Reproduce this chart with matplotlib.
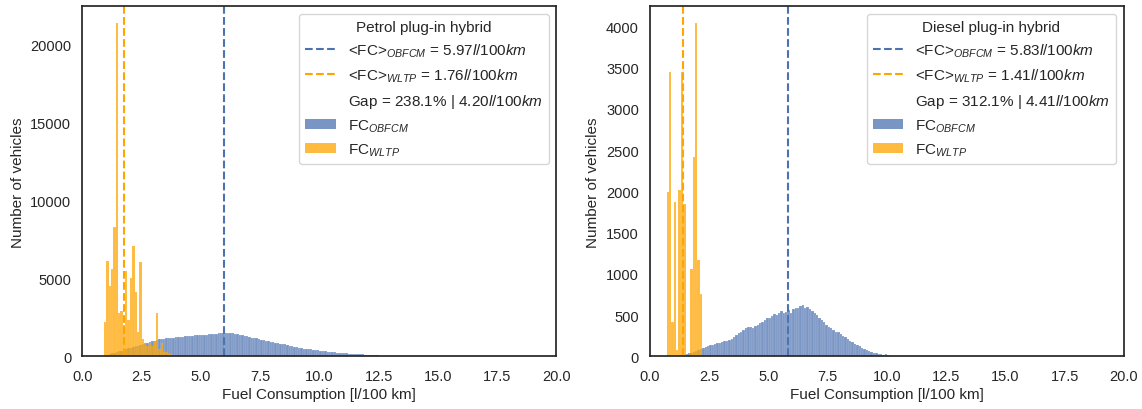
import numpy as np
import matplotlib
matplotlib.use("Agg")
import matplotlib.pyplot as plt
from matplotlib.patches import Patch
from matplotlib.lines import Line2D
from matplotlib.ticker import MultipleLocator

# bin width of both histograms [l/100 km]
bin_w = 0.1

# Petrol plug-in hybrid
petrol_obfcm_start = 0.8
petrol_obfcm = [20, 60, 100, 140, 190, 230, 280, 330, 370, 420,
                470, 510, 560, 600, 650, 690, 740, 780, 830, 880,
                930, 980, 1010, 1050, 1080, 1100, 1130, 1150, 1170, 1190,
                1160, 1210, 1240, 1260, 1230, 1280, 1300, 1320, 1290, 1350,
                1370, 1340, 1390, 1400, 1380, 1420, 1440, 1460, 1430, 1480,
                1500, 1510, 1490, 1520, 1500, 1480, 1460, 1440, 1400, 1370,
                1330, 1280, 1230, 1190, 1170, 1150, 1100, 1060, 1020, 990,
                960, 930, 900, 870, 840, 820, 800, 760, 720, 680,
                640, 600, 570, 540, 520, 500, 480, 460, 440, 420,
                400, 380, 350, 330, 310, 290, 275, 260, 250, 235,
                225, 210, 200, 190, 180, 170, 160, 150, 140, 130,
                120, 115, 105, 95, 85, 75, 60, 45]
petrol_wltp_start = 0.9
petrol_wltp = [2200, 6100, 4500, 5600, 8300, 21400, 2800, 2900, 2000, 5500,
               2300, 5000, 7100, 4100, 1550, 6050, 1100, 850, 650, 850,
               650, 900, 2800, 450, 850, 300, 250, 150, 120, 60]
petrol_mean_obfcm = 5.97
petrol_mean_wltp = 1.76
petrol_gap = "Gap = 238.1% | 4.20$l/100km$"
petrol_ystep = 5000

# Diesel plug-in hybrid
diesel_obfcm_start = 1.4
diesel_obfcm = [10, 25, 35, 45, 55, 70, 80, 90, 100, 110,
                120, 135, 140, 150, 160, 165, 175, 185, 190, 200,
                215, 240, 260, 280, 300, 320, 340, 350, 360, 345,
                370, 385, 400, 420, 440, 470, 460, 490, 510, 500,
                530, 550, 520, 540, 560, 530, 570, 590, 580, 610,
                620, 590, 600, 570, 550, 520, 500, 470, 440, 410,
                380, 360, 340, 320, 300, 290, 270, 250, 230, 210,
                190, 170, 150, 135, 120, 105, 90, 80, 70, 55,
                45, 40, 30, 25, 20, 25, 20]
diesel_wltp_start = 0.7
diesel_wltp = [1990, 3450, 420, 1870, 80, 2020, 3440, 1850, 0, 0,
               1060, 2420, 4040, 1170, 760]
diesel_mean_obfcm = 5.83
diesel_mean_wltp = 1.41
diesel_gap = "Gap = 312.1% | 4.41$l/100km$"
diesel_ystep = 500

blue = "#4C72B0"
orange = "#FFA500"
ink = "#262626"

plt.rcParams["font.family"] = ["Liberation Sans", "DejaVu Sans"]
plt.rcParams["mathtext.fontset"] = "custom"
plt.rcParams["mathtext.rm"] = "Liberation Sans"
plt.rcParams["mathtext.it"] = "Liberation Sans:italic"
plt.rcParams["mathtext.bf"] = "Liberation Sans:bold"


def draw_hist(ax, start, counts, color, lw):
    edges = start + bin_w * np.arange(len(counts) + 1)
    ax.bar(edges[:-1], counts, width=bin_w, align="edge", color=color,
           alpha=0.75, edgecolor="white", linewidth=lw)


def panel(ax, title, o_start, o_counts, w_start, w_counts, m_obfcm, m_wltp, gap, ystep):
    draw_hist(ax, o_start, o_counts, blue, 0.15)
    draw_hist(ax, w_start, w_counts, orange, 0.05)
    ax.axvline(m_obfcm, color=blue, ls="--", lw=1.5)
    ax.axvline(m_wltp, color=orange, ls="--", lw=1.5)
    ax.set_xlim(0, 20)
    ax.set_ylim(0, max(w_counts) * 1.05)
    ax.yaxis.set_major_locator(MultipleLocator(ystep))
    ax.set_xticks(np.arange(0, 20.1, 2.5))
    ax.set_xticklabels([f"{v:.1f}" for v in np.arange(0, 20.1, 2.5)])
    ax.set_xlabel("Fuel Consumption [l/100 km]", fontsize=11, color=ink, labelpad=3)
    ax.set_ylabel("Number of vehicles", fontsize=11, color=ink)
    ax.tick_params(length=0, labelsize=10.5, labelcolor=ink)
    ax.tick_params(axis="x", pad=9)
    ax.tick_params(axis="y", pad=8)
    for s in ax.spines.values():
        s.set_color(ink)
        s.set_linewidth(1.25)
    handles = [
        Line2D([], [], color=blue, ls="--", lw=1.5),
        Line2D([], [], color=orange, ls="--", lw=1.5),
        Line2D([], [], color="none"),
        Patch(facecolor=blue, alpha=0.75, edgecolor="none"),
        Patch(facecolor=orange, alpha=0.75, edgecolor="none"),
    ]
    labels = [
        f"<FC>$_{{OBFCM}}$ = {m_obfcm:.2f}$l/100km$",
        f"<FC>$_{{WLTP}}$ = {m_wltp:.2f}$l/100km$",
        gap,
        "FC$_{OBFCM}$",
        "FC$_{WLTP}$",
    ]
    leg = ax.legend(handles, labels, title=title, loc="upper right",
                    fontsize=11, title_fontsize=11, edgecolor="0.8",
                    framealpha=0.8, labelcolor=ink)
    leg.get_title().set_color(ink)


fig = plt.figure(figsize=(11.42, 4.10), dpi=100)
ax1 = fig.add_axes([0.0722, 0.1285, 0.415, 0.8537])
ax2 = fig.add_axes([0.5692, 0.1285, 0.415, 0.8537])

panel(ax1, "Petrol plug-in hybrid", petrol_obfcm_start, petrol_obfcm,
      petrol_wltp_start, petrol_wltp, petrol_mean_obfcm, petrol_mean_wltp,
      petrol_gap, petrol_ystep)
panel(ax2, "Diesel plug-in hybrid", diesel_obfcm_start, diesel_obfcm,
      diesel_wltp_start, diesel_wltp, diesel_mean_obfcm, diesel_mean_wltp,
      diesel_gap, diesel_ystep)

fig.savefig("out.png", dpi=100)
